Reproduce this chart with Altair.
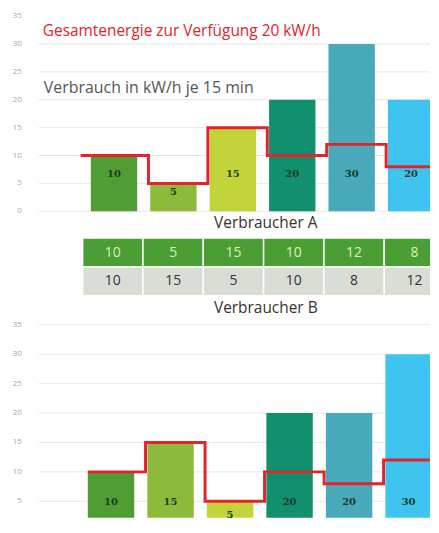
import altair as alt
import pandas as pd

# ---- data ----
slots = [0, 1, 2, 3, 4, 5]
bars_a = [10, 5, 15, 20, 30, 20]
bars_b = [10, 15, 5, 20, 20, 30]
line_a = [10, 5, 15, 10, 12, 8]
line_b = [10, 15, 5, 10, 8, 12]
top_ticks = [0, 5, 10, 15, 20, 25, 30, 35]
top_grid = [0, 5, 10, 15, 20, 25, 30]
bottom_ticks = [5, 10, 15, 20, 25, 30, 35]
title_text = "Gesamtenergie zur Verfügung 20 kW/h"
subtitle_text = "Verbrauch in kW/h je 15 min"
label_a = "Verbraucher A"
label_b = "Verbraucher B"

# ---- style ----
BAR_COLORS = ["#4f9d33", "#8cbb3c", "#c3d43a", "#12906e", "#47a9ba", "#3ec4ee"]
RED = "#e3232d"
FONT = "Open Sans"
W = 393          # plot width
H = 508          # plot height (whole stacked figure)

def panel(bars, line, xrange, yrange, start_off, end_off, cap, frac, ticks, grid, extra):
    xs = alt.Scale(domain=[0, 6], range=xrange, nice=False, zero=False, padding=0)
    ys = alt.Scale(domain=[0, 35], range=yrange, nice=False, zero=False, padding=0)
    gdf = pd.DataFrame({"t": grid})
    tdf = pd.DataFrame({"t": ticks})
    g = alt.Chart(gdf).mark_rule(color="#e8e8e8", strokeWidth=1).encode(
        y=alt.Y("t:Q", scale=ys, axis=None), x=alt.value(0), x2=alt.value(W))
    tl = alt.Chart(tdf).mark_text(align="right", baseline="middle", fontSize=8,
                                  color="#a8a8a8", font=FONT).encode(
        y=alt.Y("t:Q", scale=ys, axis=None), x=alt.value(-17), text="t:Q")
    bdf = pd.DataFrame({"slot": slots, "value": bars})
    base = alt.Chart(bdf).transform_calculate(
        x0="datum.slot + 0.11",
        x1="datum.slot + 0.89",
        xm="datum.slot + 0.5",
        base0="0",
        ly=f"min(datum.value * {frac}, {cap})",
    )
    b = base.mark_bar(clip=True, orient="vertical").encode(
        x=alt.X("x0:Q", scale=xs, axis=None),
        x2="x1:Q",
        y=alt.Y("value:Q", scale=ys, axis=None),
        y2="base0:Q",
        color=alt.Color("slot:N", scale=alt.Scale(domain=slots, range=BAR_COLORS), legend=None),
    )
    t = base.mark_text(fontSize=10, fontWeight="bold", color="#1d3a22",
                       font="DejaVu Serif").encode(
        x=alt.X("xm:Q", scale=xs, axis=None), y=alt.Y("ly:Q", scale=ys, axis=None),
        text="value:Q")
    xl = [start_off] + [s + 0.08 for s in slots[1:]] + [end_off]
    ldf = pd.DataFrame({"x": xl, "v": line + [line[-1]]})
    l = alt.Chart(ldf).mark_line(interpolate="step-after", color=RED, strokeWidth=3,
                                 clip=True).encode(
        x=alt.X("x:Q", scale=xs, axis=None), y=alt.Y("v:Q", scale=ys, axis=None))
    layers = [g, tl, b, l, t]
    for txt, px, py, size, col in extra:
        layers.append(alt.Chart(pd.DataFrame({"t": [txt]})).mark_text(
            align="left", baseline="middle", fontSize=size, color=col, font=FONT).encode(
            x=alt.value(px), y=alt.value(py), text="t:N"))
    return alt.layer(*layers)

top = panel(bars_a, line_a, [45.65, 403.85], [200, 4], -0.06, 6.3, 6.6, 0.68,
            top_ticks, top_grid,
            [(title_text, 4, 19, 15.5, RED), (subtitle_text, 5, 76, 16, "#555555")])

bottom = panel(bars_b, line_b, [42.6, 401.4], [521, 314], 0.11, 5.89, 4.8, 0.55,
               bottom_ticks, bottom_ticks, [])

# ---- table ----
rows = []
for r, vals in (("A", line_a), ("B", line_b)):
    for s, v in zip(slots, vals):
        rows.append({"row": r, "slot": s, "value": v})
tdf = pd.DataFrame(rows)
txs = alt.Scale(domain=[0, 6], range=[44, 407.6], nice=False, zero=False)
tys = alt.Scale(domain=["A", "B"], range=[227, 285], paddingInner=0, paddingOuter=0)
tbase = alt.Chart(tdf).transform_calculate(
    x0="datum.slot", x1="datum.slot + 1", xm="datum.slot + 0.5",
    fillc="datum.row == 'A' ? '#4b9e33' : '#d8ddd5'",
    textc="datum.row == 'A' ? '#dcefb8' : '#333333'")
cells = tbase.mark_rect(stroke="white", strokeWidth=1.5, clip=True).encode(
    x=alt.X("x0:Q", scale=txs, axis=None), x2="x1:Q",
    y=alt.Y("row:N", scale=tys, axis=None),
    fill=alt.Fill("fillc:N", scale=None))
ctext = tbase.mark_text(fontSize=14, font=FONT).encode(
    x=alt.X("xm:Q", scale=txs, axis=None), y=alt.Y("row:N", scale=tys, axis=None),
    text="value:Q", color=alt.Color("textc:N", scale=None))
ta = alt.Chart(pd.DataFrame({"t": [label_a]})).mark_text(
    fontSize=15.5, color="#333333", font=FONT).encode(
    x=alt.value(228), y=alt.value(212), text="t:N")
tb = alt.Chart(pd.DataFrame({"t": [label_b]})).mark_text(
    fontSize=15.5, color="#333333", font=FONT).encode(
    x=alt.value(228), y=alt.value(297), text="t:N")
table = alt.layer(cells, ctext, ta, tb)

chart = alt.layer(top, table, bottom).resolve_scale(
    x="independent", y="independent"
).properties(
    width=W, height=H,
    padding={"left": 4, "top": 3, "right": 0, "bottom": 0}
).configure_view(stroke=None)

chart.save("out.html", embed_options={"renderer": "svg", "actions": False})
